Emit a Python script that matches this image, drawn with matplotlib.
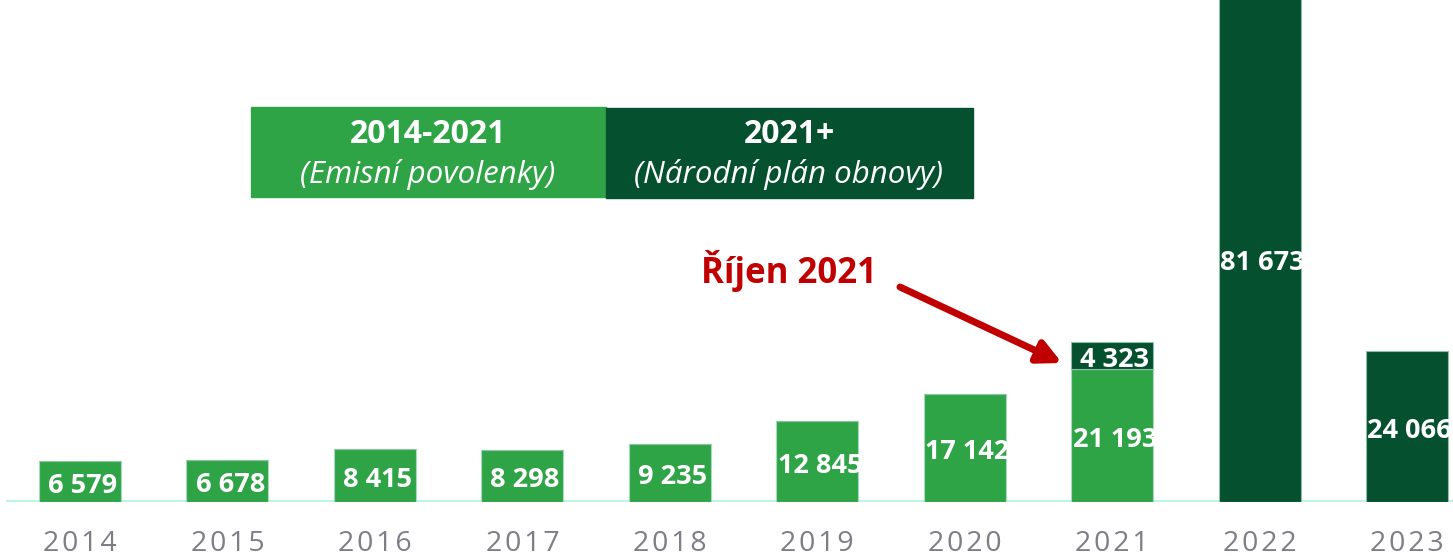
import matplotlib
matplotlib.use("Agg")
import matplotlib.pyplot as plt
from matplotlib.patches import Rectangle

# hodnoty (mil. Kč) podle grafu
years = ["2014", "2015", "2016", "2017", "2018", "2019", "2020", "2021", "2022", "2023"]
emise = [6579, 6678, 8415, 8298, 9235, 12845, 17142, 21193, 0, 0]
npo = [0, 0, 0, 0, 0, 0, 0, 4323, 81673, 24066]

LIGHT = "#2fa446"
DARK = "#04502f"
RED = "#c00000"
plt.rcParams["font.family"] = ["Open Sans", "DejaVu Sans"]

W, H = 1453, 556
fig = plt.figure(figsize=(W / 100, H / 100), dpi=100)
ax = fig.add_axes([0, 54 / H, 1, 502 / H])
ymax = 80000
ax.set_xlim(-0.5426, 9.312)
ax.set_ylim(0, ymax)

x = list(range(len(years)))
bw = 0.556
ax.bar(x, emise, width=bw, color=LIGHT, edgecolor="#a6dcbc", lw=0.8, zorder=2)
ax.bar(x, npo, width=bw, bottom=emise, color=DARK, edgecolor="#8fbfa6", lw=0.8, zorder=2)

def fmt(v):
    return f"{v:,}".replace(",", " ")

def label(xi, yv, s):
    ax.annotate(s, (xi, yv), xytext=(2, -3), textcoords="offset points",
                ha="center", va="center", color="white",
                fontsize=19.5, fontweight="bold", zorder=3)

for i in x:
    e, n = emise[i], npo[i]
    if e:
        label(i, e / 2, fmt(e))
    if n:
        top = min(e + n, ymax * 0.97)
        label(i, (e + top) / 2, fmt(n))

ax.axhline(0, xmin=8 / W, xmax=1, color="#bff5e0", lw=3, zorder=1)
for s in ax.spines.values():
    s.set_visible(False)
ax.set_yticks([])
ax.set_xticks(x)
ax.set_xticklabels(["\u200a".join(y) for y in years], fontsize=20.5, color="#7d7e86")
ax.tick_params(axis="x", length=0, pad=20)

# legenda obdobi
def fx(px):
    return px / W

def fy(py):
    return 1 - py / H

fig.patches.append(Rectangle((fx(251), fy(197)), fx(606) - fx(251), (197 - 107) / H,
                             transform=fig.transFigure, color=LIGHT, zorder=5))
fig.patches.append(Rectangle((fx(606), fy(198)), fx(973) - fx(606), (198 - 108) / H,
                             transform=fig.transFigure, color=DARK, zorder=5))
fig.text(fx(428), fy(134), "2014-2021", ha="center", va="center", color="white",
         fontsize=23, fontweight="bold", zorder=6)
fig.text(fx(428), fy(175), "(Emisní povolenky)", ha="center", va="center", color="white",
         fontsize=22.5, style="italic", zorder=6)
fig.text(fx(789), fy(134), "2021+", ha="center", va="center", color="white",
         fontsize=23, fontweight="bold", zorder=6)
fig.text(fx(789), fy(175), "(Národní plán obnovy)", ha="center", va="center", color="white",
         fontsize=22.5, style="italic", zorder=6)

# sipka
fig.text(fx(789), fy(271), "Říjen 2021", ha="center", va="center", color=RED,
         fontsize=25, fontweight="bold")
ax.annotate("", xy=(fx(1062), fy(363)), xytext=(fx(900), fy(287)),
            xycoords="figure fraction", textcoords="figure fraction",
            arrowprops=dict(arrowstyle="-|>,head_length=1.4,head_width=0.7",
                            color=RED, lw=5, shrinkA=0, shrinkB=0))

fig.savefig("out.png", dpi=100)
